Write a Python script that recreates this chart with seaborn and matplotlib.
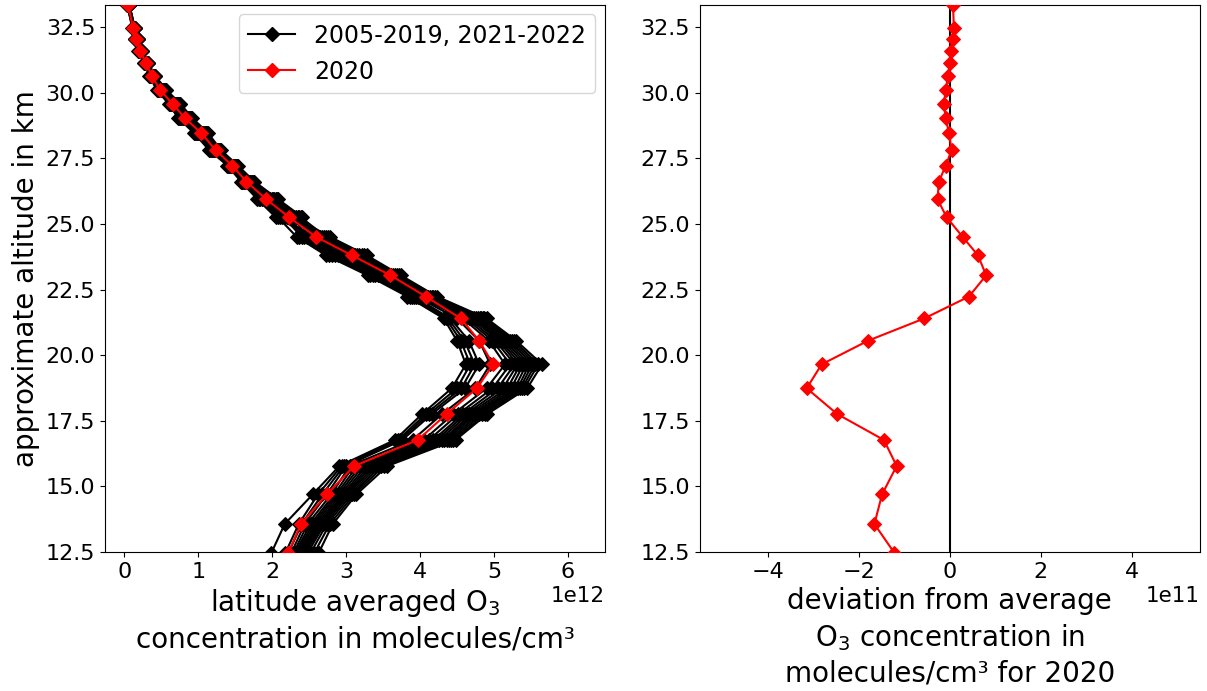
import numpy as np
import pandas as pd
import matplotlib
matplotlib.use("Agg")
import matplotlib.pyplot as plt
import seaborn as sns
from matplotlib.lines import Line2D

# approximate altitude levels (km), top to bottom
altitude = [33.34, 32.45, 32.04, 31.59, 31.12, 30.63, 30.10, 29.57, 29.03, 28.46,
            27.81, 27.22, 26.61, 25.94, 25.25, 24.51, 23.80, 23.04, 22.23, 21.40,
            20.55, 19.65, 18.74, 17.76, 16.77, 15.78, 14.70, 13.57, 12.47]

# latitude averaged O3 concentration, units of 1e12 molecules/cm^3
o3_2005 = [.040, .110, .145, .190, .270, .340, .440, .600, .730, .943, 1.148, 1.396, 1.580, 1.800, 2.050,
           2.546, 2.994, 3.506, 4.022, 4.66, 5.02, 5.28, 5.05, 4.58, 4.18, 3.19, 2.90, 2.58, 2.35]
o3_2006 = [.042, .113, .149, .194, .274, .346, .450, .613, .745, .958, 1.161, 1.407, 1.594, 1.822, 2.079,
           2.330, 2.730, 3.290, 3.830, 4.32, 4.50, 4.62, 4.43, 4.03, 3.66, 2.91, 2.55, 2.17, 1.99]
o3_2007 = [.045, .115, .152, .198, .278, .352, .460, .624, .759, .972, 1.172, 1.417, 1.607, 1.842, 2.104,
           2.591, 3.049, 3.551, 4.062, 4.73, 5.09, 5.36, 5.18, 4.66, 4.26, 3.27, 2.96, 2.63, 2.39]
o3_2008 = [.047, .118, .155, .201, .282, .358, .469, .635, .772, .985, 1.183, 1.427, 1.620, 1.862, 2.129,
           2.492, 2.928, 3.452, 3.974, 4.58, 4.93, 5.15, 4.90, 4.45, 4.05, 3.10, 2.84, 2.52, 2.31]
o3_2009 = [.049, .121, .159, .205, .287, .364, .479, .648, .787, 1.000, 1.196, 1.438, 1.634, 1.884, 2.158,
           2.398, 2.813, 3.358, 3.890, 4.38, 4.60, 4.74, 4.56, 4.12, 3.73, 2.97, 2.68, 2.40, 2.22]
o3_2010 = [.051, .123, .161, .208, .290, .369, .487, .658, .798, 1.011, 1.206, 1.446, 1.645, 1.901, 2.180,
           2.645, 3.115, 3.605, 4.110, 4.79, 5.15, 5.44, 5.28, 4.73, 4.33, 3.35, 3.00, 2.67, 2.43]
o3_2011 = [.053, .125, .164, .211, .293, .374, .495, .667, .810, 1.023, 1.215, 1.455, 1.656, 1.918, 2.201,
           2.465, 2.895, 3.425, 3.950, 4.50, 4.80, 4.95, 4.75, 4.30, 3.90, 3.05, 2.80, 2.48, 2.29]
o3_2012 = [.054, .127, .167, .214, .296, .378, .502, .677, .821, 1.034, 1.225, 1.463, 1.666, 1.934, 2.223,
           2.699, 3.181, 3.659, 4.158, 4.83, 5.21, 5.52, 5.35, 4.80, 4.39, 3.43, 3.05, 2.71, 2.48]
o3_2013 = [.056, .129, .169, .217, .299, .382, .509, .685, .831, 1.044, 1.233, 1.470, 1.675, 1.948, 2.241,
           2.366, 2.774, 3.326, 3.862, 4.35, 4.55, 4.68, 4.50, 4.08, 3.70, 2.94, 2.62, 2.36, 2.18]
o3_2014 = [.057, .130, .171, .219, .302, .386, .515, .693, .840, 1.053, 1.241, 1.477, 1.684, 1.962, 2.259,
           2.753, 3.247, 3.713, 4.206, 4.87, 5.27, 5.60, 5.41, 4.88, 4.45, 3.51, 3.11, 2.78, 2.57]
o3_2015 = [.059, .132, .173, .222, .305, .390, .522, .701, .850, 1.063, 1.249, 1.484, 1.693, 1.976, 2.277,
           2.569, 3.022, 3.529, 4.042, 4.70, 5.06, 5.32, 5.12, 4.62, 4.22, 3.23, 2.93, 2.61, 2.37]
o3_2016 = [.061, .135, .177, .225, .309, .396, .531, .712, .863, 1.076, 1.260, 1.494, 1.706, 1.996, 2.302,
           2.780, 3.280, 3.740, 4.230, 4.90, 5.30, 5.65, 5.45, 4.91, 4.48, 3.56, 3.14, 2.82, 2.63]
o3_2017 = [.063, .137, .179, .228, .312, .401, .539, .722, .874, 1.087, 1.270, 1.502, 1.717, 2.013, 2.324,
           2.429, 2.851, 3.389, 3.918, 4.41, 4.66, 4.80, 4.61, 4.16, 3.76, 3.00, 2.74, 2.44, 2.26]
o3_2018 = [.065, .139, .182, .231, .315, .406, .547, .731, .886, 1.099, 1.279, 1.511, 1.728, 2.030, 2.345,
           2.672, 3.148, 3.632, 4.134, 4.81, 5.18, 5.48, 5.32, 4.76, 4.36, 3.39, 3.02, 2.69, 2.45]
o3_2019 = [.066, .141, .185, .234, .318, .410, .554, .741, .897, 1.110, 1.289, 1.519, 1.738, 2.046, 2.367,
           2.519, 2.961, 3.479, 3.998, 4.62, 4.98, 5.22, 4.98, 4.52, 4.12, 3.15, 2.87, 2.55, 2.33]
o3_2021 = [.068, .143, .187, .237, .322, .415, .562, .750, .909, 1.122, 1.298, 1.528, 1.749, 2.063, 2.388,
           2.726, 3.214, 3.686, 4.182, 4.85, 5.24, 5.56, 5.38, 4.84, 4.42, 3.47, 3.08, 2.74, 2.52]
o3_2022 = [.070, .145, .190, .240, .325, .420, .570, .760, .920, 1.133, 1.308, 1.536, 1.760, 2.080, 2.410,
           2.614, 3.077, 3.574, 4.082, 4.76, 5.12, 5.40, 5.23, 4.70, 4.30, 3.31, 2.98, 2.65, 2.41]

o3_2020 = [0.054, 0.118, 0.160, 0.215, 0.295, 0.376, 0.483, 0.655, 0.820, 1.040, 1.235, 1.460, 1.650,
           1.920, 2.230, 2.590, 3.080, 3.600, 4.080, 4.550, 4.800, 4.990, 4.770, 4.360, 3.970, 3.110,
           2.740, 2.390, 2.220]

# deviation from average for 2020, units of 1e11 molecules/cm^3
dev_2020 = [0.07, 0.09, 0.07, 0.02, 0.00, -0.04, -0.09, -0.13, -0.09, -0.02, 0.04, -0.09, -0.24, -0.27,
            -0.07, 0.28, 0.62, 0.80, 0.42, -0.56, -1.80, -2.82, -3.15, -2.48, -1.45, -1.17, -1.49,
            -1.66, -1.22]

other_years = {2005: o3_2005, 2006: o3_2006, 2007: o3_2007, 2008: o3_2008, 2009: o3_2009,
               2010: o3_2010, 2011: o3_2011, 2012: o3_2012, 2013: o3_2013, 2014: o3_2014,
               2015: o3_2015, 2016: o3_2016, 2017: o3_2017, 2018: o3_2018, 2019: o3_2019,
               2021: o3_2021, 2022: o3_2022}

legend_labels = ["2005-2019, 2021-2022", "2020"]

rows = []
for yr, vals in other_years.items():
    for a, v in zip(altitude, vals):
        rows.append({"year": yr, "alt": a, "o3": v * 1e12})
df_other = pd.DataFrame(rows)
df_2020 = pd.DataFrame({"alt": altitude, "o3": np.array(o3_2020) * 1e12,
                        "dev": np.array(dev_2020) * 1e11})

plt.rcParams["font.family"] = ["DejaVu Sans"]
fig, (ax1, ax2) = plt.subplots(1, 2, figsize=(12.07, 6.91), dpi=100)
fig.subplots_adjust(left=0.087, right=0.994, top=0.993, bottom=0.201, wspace=0.19)

MS = 7.5
for yr in other_years:
    sub = df_other[df_other["year"] == yr]
    sns.lineplot(data=sub, x="o3", y="alt", sort=False, estimator=None, ax=ax1,
                 color="black", marker="D", markersize=MS, markeredgecolor="black",
                 linewidth=1.5, legend=False)
sns.lineplot(data=df_2020, x="o3", y="alt", sort=False, estimator=None, ax=ax1,
             color="red", marker="D", markersize=MS, markeredgecolor="red",
             linewidth=1.5, legend=False, zorder=5)

ax1.set_ylim(12.5, 33.34)
ax1.set_xlim(-0.26e12, 6.5e12)
ax1.set_ylabel("approximate altitude in km", fontsize=20)
ax1.set_xlabel("latitude averaged O$_3$\nconcentration in molecules/cm³", fontsize=20,
               linespacing=1.3)
ax1.tick_params(labelsize=16)
ax1.xaxis.get_offset_text().set_fontsize(15.5)

handles = [Line2D([], [], color="black", marker="D", markersize=MS, linewidth=1.5),
           Line2D([], [], color="red", marker="D", markersize=MS, linewidth=1.5)]
ax1.legend(handles, legend_labels, loc="upper right", fontsize=17,
           borderaxespad=0.4)

ax2.axvline(0, color="black", linewidth=1.5)
sns.lineplot(data=df_2020, x="dev", y="alt", sort=False, estimator=None, ax=ax2,
             color="red", marker="D", markersize=MS, markeredgecolor="red",
             linewidth=1.5, legend=False, zorder=5)
ax2.set_ylim(12.5, 33.34)
ax2.set_xlim(-5.5e11, 5.5e11)
ax2.set_ylabel("")
ax2.set_xlabel("deviation from average\nO$_3$ concentration in\nmolecules/cm³ for 2020",
               fontsize=20, linespacing=1.3)
ax2.tick_params(labelsize=16)
ax2.xaxis.get_offset_text().set_fontsize(15.5)

fig.savefig("out.png", dpi=100)
